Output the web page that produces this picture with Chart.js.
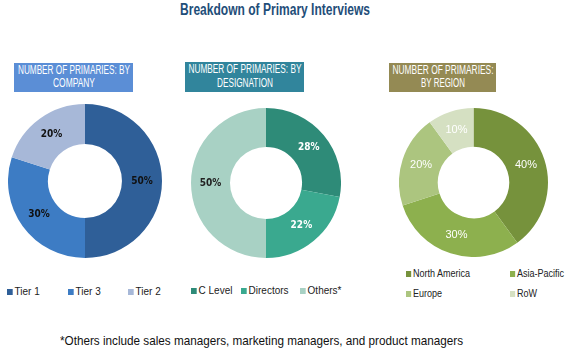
<!DOCTYPE html>
<html>
<head>
<meta charset="utf-8">
<script src="https://cdn.jsdelivr.net/npm/chart.js@4.4.1/dist/chart.umd.min.js"></script>
<style>
  body { margin: 0; width: 567px; height: 350px; background: #fff; position: relative; overflow: hidden; font-family: "Liberation Sans", Arial, sans-serif; }
  .abs { position: absolute; }
  .fit { white-space: nowrap; transform-origin: left top; }
  #title { left: 180px; top: 1px; font-size: 16px; font-weight: bold; color: #1f4e79; }
  .head { color: #fff; font-size: 12px; line-height: 13px; box-sizing: border-box; }
  .head span { position: absolute; white-space: nowrap; left: 50%; transform-origin: center top; }
  .leg { font-size: 10.5px; color: #222; white-space: nowrap; transform-origin: left top; }
  .leg i { display: inline-block; width: 6px; height: 6px; margin-right: 2px; vertical-align: 0px; }
  #note { left: 60px; top: 333px; font-size: 13px; color: #111; }
</style>
</head>
<body>
<div id="title" class="abs fit" data-w="190">Breakdown of Primary Interviews</div>

<div class="abs head" style="left:14px;top:63px;width:119px;height:29px;background:#5b8ed6;">
  <span class="hl" data-w="112" style="top:1px">NUMBER OF PRIMARIES: BY</span>
  <span class="hl" data-w="42" style="top:14px">COMPANY</span>
</div>
<div class="abs head" style="left:185px;top:62px;width:119px;height:30px;background:#31859c;">
  <span class="hl" data-w="113" style="top:1px">NUMBER OF PRIMARIES: BY</span>
  <span class="hl" data-w="56" style="top:15px">DESIGNATION</span>
</div>
<div class="abs head" style="left:389px;top:63px;width:107px;height:29px;background:#948a54;">
  <span class="hl" data-w="101" style="top:1px">NUMBER OF PRIMARIES:</span>
  <span class="hl" data-w="44" style="top:14px">BY REGION</span>
</div>

<canvas id="c1" class="abs" style="left:8px;top:104px;width:154px;height:154px;"></canvas>
<canvas id="c2" class="abs" style="left:191px;top:108px;width:150px;height:150px;"></canvas>
<canvas id="c3" class="abs" style="left:399px;top:108px;width:149px;height:149px;"></canvas>

<div id="legends"></div>

<div id="note" class="abs fit" data-w="403">*Others include sales managers, marketing managers, and product managers</div>

<script>
'use strict'

//company
let companyLabels = ['Tier 1', 'Tier 3', 'Tier 2'];
let companyValues = [50, 30, 20];
let companyColors = ['#2f5f98', '#3d7cc4', '#a7b8d8'];
let companyText = ['#111', '#111', '#111'];

//designation
let designationLabels = ['C Level', 'Directors', 'Others*'];
let designationValues = [28, 22, 50];
let designationColors = ['#2e8b78', '#3aa98f', '#a8d1c4'];
let designationText = ['#fff', '#fff', '#222'];

//region
let regionLabels = ['North America', 'Asia-Pacific', 'Europe', 'RoW'];
let regionValues = [40, 30, 20, 10];
let regionColors = ['#76923c', '#8db04e', '#acc57f', '#d5e0c2'];
let regionText = ['#fff', '#fff', '#fff', '#fff'];

//percent labels on the arcs
let pctPlugin = {
  id: 'pct',
  afterDatasetsDraw(chart, args, opts){
    let c = chart.ctx;
    let meta = chart.getDatasetMeta(0);
    let data = chart.data.datasets[0].data;
    c.save();
    c.font = opts.font;
    c.textAlign = 'center';
    c.textBaseline = 'middle';
    meta.data.forEach(function(arc, i){
      let p = arc.tooltipPosition();
      c.fillStyle = opts.colors[i];
      c.fillText(data[i] + '%', p.x, p.y);
    });
    c.restore();
  }
};

function donut(id, labels, values, colors, textColors, font){
  let ctx = document.getElementById(id).getContext('2d');
  return new Chart(ctx, {
    type: 'doughnut',
    data: {
      labels: labels,
      datasets: [{
        data: values,
        backgroundColor: colors,
        borderWidth: 0
      }]
    },
    options: {
      responsive: false,
      animation: false,
      cutout: '48%',
      layout: { padding: 0 },
      plugins: {
        legend: { display: false },
        tooltip: { enabled: false },
        pct: { font: font, colors: textColors }
      }
    },
    plugins: [pctPlugin]
  });
}

function sizeCanvas(id){
  let el = document.getElementById(id);
  el.width = parseInt(el.style.width);
  el.height = parseInt(el.style.height);
}
['c1', 'c2', 'c3'].forEach(sizeCanvas);

donut('c1', companyLabels, companyValues, companyColors, companyText, 'bold 10px "DejaVu Sans Condensed", sans-serif');
donut('c2', designationLabels, designationValues, designationColors, designationText, 'bold 10px "DejaVu Sans Condensed", sans-serif');
donut('c3', regionLabels, regionValues, regionColors, regionText, '11px "Liberation Sans", sans-serif');

//legends
let legendSpots = [
  [companyLabels, companyColors, [[7, 285], [68, 285], [128, 285]], 0.95],
  [designationLabels, designationColors, [[191, 284], [241, 284], [300, 284]], 0.95],
  [regionLabels, regionColors, [[406, 267], [510, 267], [406, 287], [510, 287]], 0.86]
];
let legendBox = document.getElementById('legends');
legendSpots.forEach(function(set){
  set[0].forEach(function(name, i){
    let d = document.createElement('div');
    d.className = 'abs leg';
    d.style.left = set[2][i][0] + 'px';
    d.style.top = set[2][i][1] + 'px';
    d.style.transform = 'scaleX(' + set[3] + ')';
    d.innerHTML = '<i style="background:' + set[1][i] + '"></i>' + name;
    legendBox.appendChild(d);
  });
});

//squeeze condensed texts to their width
document.querySelectorAll('.fit').forEach(function(el){
  let w = el.getBoundingClientRect().width;
  let target = parseFloat(el.dataset.w);
  el.style.transform = 'scaleX(' + (target / w) + ')';
});
document.querySelectorAll('.hl').forEach(function(el){
  let w = el.getBoundingClientRect().width;
  let target = parseFloat(el.dataset.w);
  el.style.transform = 'translateX(-50%) scaleX(' + (target / w) + ')';
});
</script>
</body>
</html>
